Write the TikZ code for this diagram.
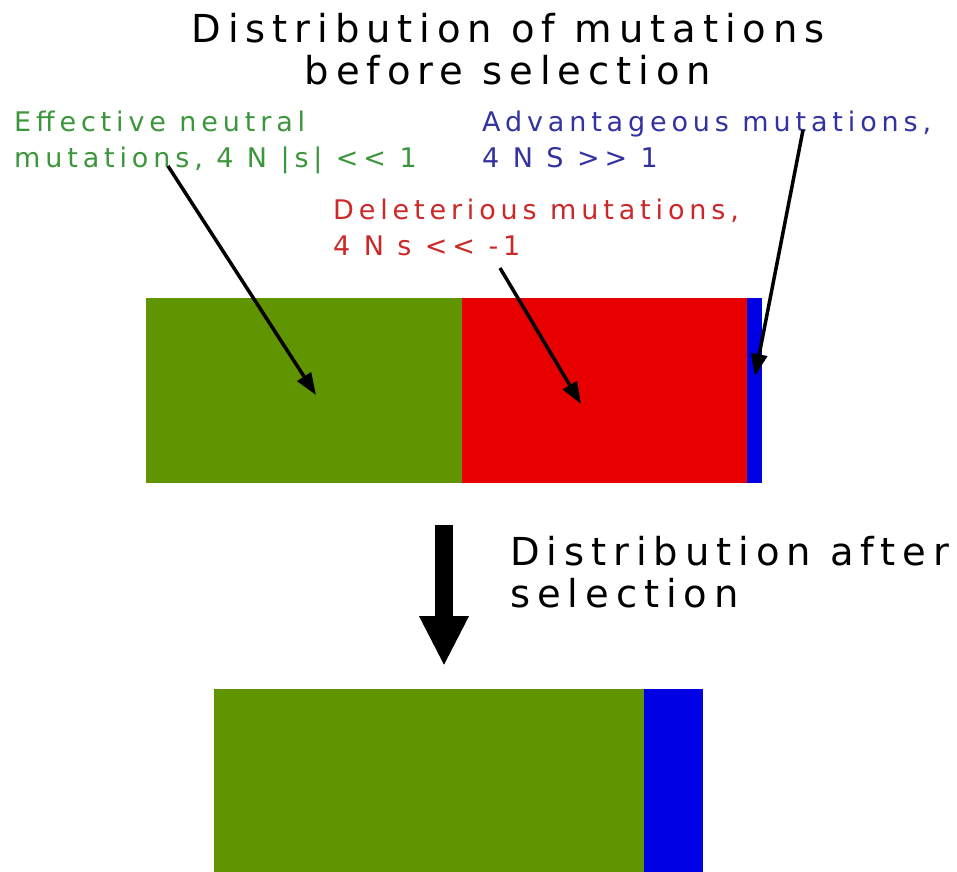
\documentclass[tikz,border=0pt]{standalone}
\usepackage{fontspec}
\usetikzlibrary{arrows.meta}
\newfontfamily\spfont[LetterSpace=18]{DejaVu Sans}
\definecolor{bargreen}{RGB}{96,148,0}
\definecolor{barred}{RGB}{232,0,0}
\definecolor{barblue}{RGB}{0,0,228}
\definecolor{txtgreen}{RGB}{60,150,60}
\definecolor{txtred}{RGB}{205,40,40}
\definecolor{txtblue}{RGB}{50,50,160}
\begin{document}
\begin{tikzpicture}[x=1pt,y=-1pt,
  bar/.style={draw=none,inner sep=0pt,outer sep=0pt,anchor=north west},
  ttl/.style={inner sep=0pt,align=center,font=\spfont\fontsize{38.5}{42}\selectfont},
  lbl/.style={inner sep=0pt,align=left,anchor=north west,font=\spfont\fontsize{27}{36}\selectfont},
  ptr/.style={line width=3.5pt,-{Triangle[length=22pt,width=16pt]}},
  bigptr/.style={line width=18pt,-{Triangle[length=50pt,width=46pt]}}]
\useasboundingbox[fill=white] (0,0) rectangle (957,871);
% top bar
\node[bar,fill=bargreen,minimum width=316pt,minimum height=185pt] (g1) at (146,298) {};
\node[bar,fill=barred,minimum width=285pt,minimum height=185pt] (r1) at (462,298) {};
\node[bar,fill=barblue,minimum width=15pt,minimum height=185pt] (b1) at (747,298) {};
% bottom bar
\node[bar,fill=bargreen,minimum width=430pt,minimum height=185pt] (g2) at (214,689) {};
\node[bar,fill=barblue,minimum width=59pt,minimum height=185pt] (b2) at (644,689) {};
% titles
\node[ttl] (title) at (508,49) {Distribution of mutations\\before selection};
\node[lbl,font=\spfont\fontsize{38.5}{42}\selectfont] (after) at (510,536) {Distribution after\\selection};
% labels
\node[lbl,text=txtgreen] (neutral) at (14,111) {Effective neutral\\mutations, 4 N |s| << 1};
\node[lbl,text=txtblue] (adv) at (482,111) {Advantageous mutations,\\4 N S >> 1};
\node[lbl,text=txtred] (del) at (333,199) {Deleterious mutations,\\4 N s << -1};
% pointer coordinates
\coordinate (gs) at (168,166);
\coordinate (ge) at (316,395);
\coordinate (rs) at (500,268);
\coordinate (re) at (581,404);
\coordinate (bs) at (803,130);
\coordinate (be) at (755,376);
\coordinate (ds) at (444,525);
\coordinate (de) at (444,666);
\draw[ptr] (gs) -- (ge);
\draw[ptr] (rs) -- (re);
\draw[ptr] (bs) -- (be);
\draw[bigptr] (ds) -- (de);
\end{tikzpicture}
\end{document}
